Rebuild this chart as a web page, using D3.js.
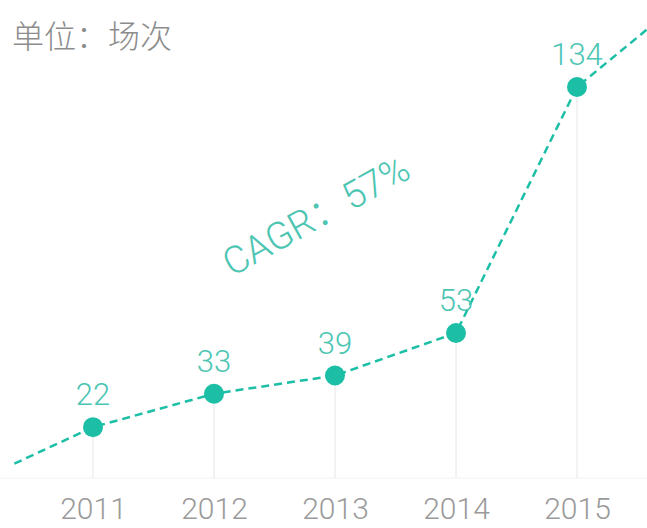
<!DOCTYPE html>
<html>
<head>
<meta charset="utf-8">
<script src="https://cdn.jsdelivr.net/npm/d3@7/dist/d3.min.js"></script>
<style>
  html, body { margin: 0; padding: 0; background: #fff; }
  svg text { font-family: Roboto, "Noto Sans CJK SC", sans-serif; font-weight: 300; }
</style>
</head>
<body>
<svg id="chart" width="647" height="528"></svg>
<script>
// data
var years = [2011, 2012, 2013, 2014, 2015];
var values = [22, 33, 39, 53, 134];
// the dashed trend runs past the first and last year
var leadYear = 2010.35, leadValue = 10;
var tailYear = 2015.58, tailValue = 153;
var unitLabel = "单位：场次";
var cagrLabel = "CAGR：57%";

var svg = d3.select("#chart"),
    width = 647, height = 528,
    baseY = 478,
    teal = "#1cbfa6", tealText = "#4cc5b3";

var x = d3.scaleLinear().domain([2011, 2015]).range([93, 577]);
var y = d3.scaleLinear().domain([0, 134]).range([494, 87]);

var pts = years.map(function (yr, i) { return { year: yr, value: values[i] }; });
var trend = [{ year: leadYear, value: leadValue }].concat(pts, [{ year: tailYear, value: tailValue }]);

// faint baseline
svg.append("line")
    .attr("x1", 0).attr("x2", width)
    .attr("y1", baseY).attr("y2", baseY)
    .attr("stroke", "#f2f2f2").attr("stroke-width", 1);

// drop lines from each point
svg.selectAll(".drop").data(pts).enter().append("line")
    .attr("class", "drop")
    .attr("x1", function (d) { return x(d.year); })
    .attr("x2", function (d) { return x(d.year); })
    .attr("y1", function (d) { return y(d.value); })
    .attr("y2", baseY)
    .attr("stroke", "#e6e6e6").attr("stroke-width", 1);

// year labels, axis without domain or ticks
var axis = d3.axisBottom(x).tickValues(years).tickFormat(d3.format("d")).tickSize(0).tickPadding(0);
var gx = svg.append("g").attr("transform", "translate(0," + (baseY + 41) + ")").call(axis);
gx.select(".domain").remove();
gx.selectAll("text")
    .attr("dy", 0)
    .attr("fill", "#9a9a9a")
    .style("font-size", "30px")
    .style("font-family", "Roboto, sans-serif")
    .style("font-weight", "300");

// dashed trend line
var line = d3.line()
    .x(function (d) { return x(d.year); })
    .y(function (d) { return y(d.value); });
svg.append("path")
    .datum(trend)
    .attr("d", line)
    .attr("fill", "none")
    .attr("stroke", teal)
    .attr("stroke-width", 2.5)
    .attr("stroke-dasharray", "8,5");

// dots
svg.selectAll(".dot").data(pts).enter().append("circle")
    .attr("class", "dot")
    .attr("cx", function (d) { return x(d.year); })
    .attr("cy", function (d) { return y(d.value); })
    .attr("r", 10)
    .attr("fill", teal);

// value labels
svg.selectAll(".val").data(pts).enter().append("text")
    .attr("class", "val")
    .attr("x", function (d) { return x(d.year); })
    .attr("y", function (d) { return y(d.value) - 22; })
    .attr("text-anchor", "middle")
    .attr("fill", tealText)
    .style("font-size", "31px")
    .text(function (d) { return d.value; });

// unit note
svg.append("text")
    .attr("x", 12).attr("y", 48)
    .attr("fill", "#8c8c8c")
    .style("font-family", "'Noto Sans CJK SC', sans-serif")
    .style("font-size", "32px")
    .text(unitLabel);

// CAGR note, rotated along the trend
svg.append("text")
    .attr("transform", "translate(232,277) rotate(-29)")
    .attr("fill", tealText)
    .style("font-size", "38px")
    .text(cagrLabel);
</script>
</body>
</html>
